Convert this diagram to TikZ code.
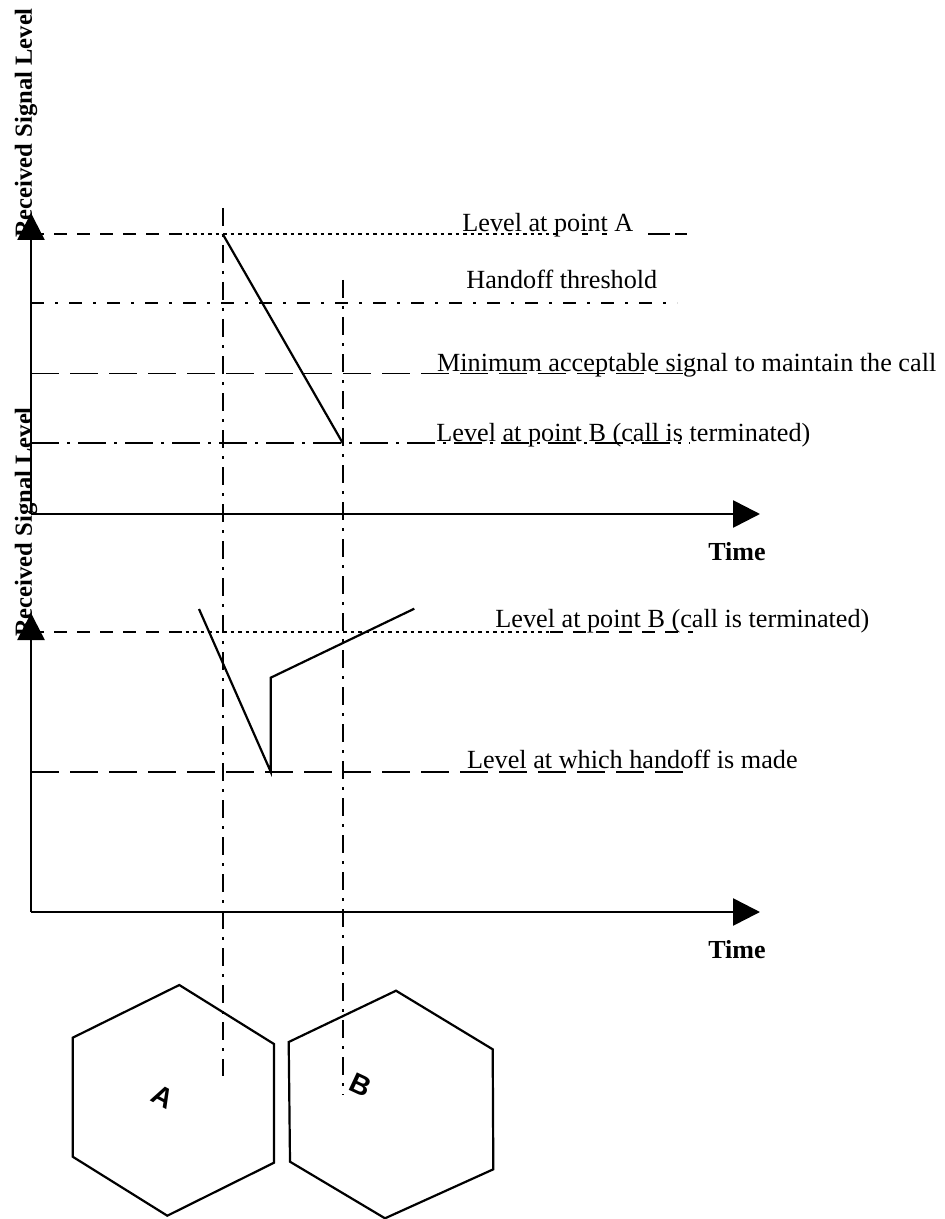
\documentclass[tikz,border=0pt]{standalone}
\usepackage{fontspec}
\setmainfont{Liberation Serif}
\newfontfamily\cellfont{Liberation Sans}
\usetikzlibrary{arrows.meta}

\tikzset{
  axisline/.style={line width=1.3pt, -{Triangle[length=13.5pt,width=13.5pt]}},
  sigline/.style={line width=1.1pt, line join=miter},
  hexline/.style={line width=1.1pt, line join=miter},
  lvl/.style={line width=0.9pt},
  shortdash/.style={lvl, dash pattern=on 6.5pt off 5pt},
  longdash/.style={lvl, dash pattern=on 14pt off 5.5pt},
  dotline/.style={lvl, dash pattern=on 1.75pt off 2pt},
  dashdotline/.style={lvl, dash pattern=on 6.5pt off 5.5pt on 1.5pt off 5.5pt},
  longdashdot/.style={lvl, dash pattern=on 14pt off 4pt on 1.5pt off 4pt},
  vguide/.style={lvl, dash pattern=on 9pt off 4pt on 1.5pt off 4pt},
  lbl/.style={inner sep=0pt, anchor=base west, font=\fontsize{13.1pt}{15pt}\selectfont},
  timelbl/.style={inner sep=0pt, anchor=base, font=\fontsize{13pt}{15pt}\selectfont\bfseries},
  ylbl/.style={inner sep=0pt, anchor=base, rotate=90, font=\fontsize{12.3pt}{14pt}\selectfont\bfseries},
  celllbl/.style={inner sep=0pt, font=\fontsize{14pt}{16pt}\selectfont\cellfont\bfseries},
}

\begin{document}
\begin{tikzpicture}[x=0.5pt, y=-0.5pt]
\useasboundingbox (0,0) rectangle (944,1219);

% ---------- axes of the upper chart ----------
\coordinate (o1) at (31,514);
\coordinate (y1) at (31,213);
\coordinate (x1) at (760,514);
% ---------- axes of the lower chart ----------
\coordinate (o2) at (31,912);
\coordinate (y2) at (31,613);
\coordinate (x2) at (760,912);

% ---------- vertical guides through the two cells ----------
\coordinate (ga1) at (222.7,208);
\coordinate (ga2) at (222.7,1076);
\coordinate (gb1) at (342.7,280);
\coordinate (gb2) at (342.7,1095);
\draw[vguide] (ga1) -- (ga2);
\draw[vguide] (gb1) -- (gb2);

% ---------- levels, upper chart ----------
% level at point A
\coordinate (la0) at (31,234);
\coordinate (la1) at (178,234);
\coordinate (la2) at (560,234);
\coordinate (la3) at (687,234);
\draw[shortdash] (la0) -- (la1);
\draw[dotline] (la1) -- (la2);
\draw[lvl, dash pattern=on 0pt off 11pt on 3pt off 7pt on 2.5pt off 20.5pt on 11pt off 2.5pt on 6pt] (la2) -- (la3);
% handoff threshold
\coordinate (th0) at (31,303.3);
\coordinate (th1) at (677,303.3);
\draw[dashdotline] (th0) -- (th1);
% minimum acceptable signal
\coordinate (mn0) at (31,373.5);
\coordinate (mn1) at (690,373.5);
\draw[longdash] (mn0) -- (mn1);
% level at point B
\coordinate (lb0) at (31,443);
\coordinate (lb1) at (690,443);
\draw[longdashdot] (lb0) -- (lb1);

% ---------- levels, lower chart ----------
\coordinate (lc0) at (31,631.7);
\coordinate (lc1) at (178,631.7);
\coordinate (lc2) at (550,631.7);
\coordinate (lc3) at (693,631.7);
\draw[shortdash] (lc0) -- (lc1);
\draw[dotline] (lc1) -- (lc2);
\draw[shortdash] (lc2) -- (lc3);
\coordinate (hm0) at (31,771.7);
\coordinate (hm1) at (683,771.7);
\draw[longdash] (hm0) -- (hm1);

% ---------- axes ----------
\draw[axisline] (o1) -- (y1);
\draw[axisline] (o1) -- (x1);
\draw[axisline] (o2) -- (y2);
\draw[axisline] (o2) -- (x2);

% ---------- received signal, upper chart ----------
\coordinate (sa) at (222.7,234);
\coordinate (sb) at (342.7,443);
\draw[sigline] (sa) -- (sb);

% ---------- received signal, lower chart ----------
\coordinate (s1) at (199,609);
\coordinate (s2) at (270.7,771.7);
\coordinate (s3) at (270.7,677.7);
\coordinate (s4) at (414.3,608.7);
\draw[sigline] (s1) -- (s2) -- (s3) -- (s4);

% ---------- labels ----------
\node[lbl] (tA) at (462,231.7) {Level at point A};
\node[lbl] (tTh) at (466,289) {Handoff threshold};
\node[lbl] (tMin) at (436.7,371.7) {Minimum acceptable signal to maintain the call};
\node[lbl] (tB) at (436,441.7) {Level at point B (call is terminated)};
\node[lbl] (tB2) at (495,627) {Level at point B (call is terminated)};
\node[lbl] (tHo) at (466.7,768) {Level at which handoff is made};
\node[timelbl] (time1) at (737,560) {Time};
\node[timelbl] (time2) at (737,958) {Time};
\node[ylbl] (rs1) at (32,123) {Received Signal Level};
\node[ylbl] (rs2) at (32,522) {Received Signal Level};

% ---------- cells ----------
\coordinate (a1) at (179.3,985);
\coordinate (a2) at (274,1044);
\coordinate (a3) at (274,1162.7);
\coordinate (a4) at (167.3,1215.7);
\coordinate (a5) at (72.7,1156.7);
\coordinate (a6) at (72.7,1037.7);
\draw[hexline] (a1) -- (a2) -- (a3) -- (a4) -- (a5) -- (a6) -- cycle;
\coordinate (b1) at (396,990.7);
\coordinate (b2) at (492.7,1049.3);
\coordinate (b3) at (493.3,1169.3);
\coordinate (b4) at (385,1218.3);
\coordinate (b5) at (290,1161.7);
\coordinate (b6) at (288.7,1042);
\draw[hexline] (b1) -- (b2) -- (b3) -- (b4) -- (b5) -- (b6) -- cycle;
\node[celllbl, rotate=-28] (cA) at (163,1097) {A};
\node[celllbl, rotate=-25] (cB) at (361,1085) {B};
\end{tikzpicture}
\end{document}
